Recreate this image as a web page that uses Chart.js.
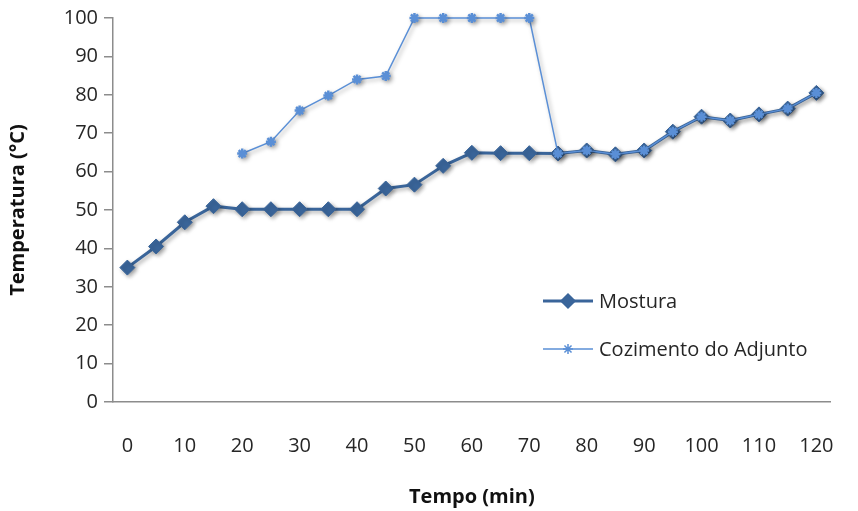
<!DOCTYPE html>
<html>
<head>
<meta charset="utf-8">
<script src="https://cdn.jsdelivr.net/npm/chart.js@4.4.0/dist/chart.umd.min.js"></script>
<style>
  html, body { margin:0; padding:0; background:#fff; }
  #wrap { position:relative; width:858px; height:511px; }
</style>
</head>
<body>
<div id="wrap"><canvas id="chartCanvas" width="858" height="511"></canvas></div>
<script>
const tempos = [0,5,10,15,20,25,30,35,40,45,50,55,60,65,70,75,80,85,90,95,100,105,110,115,120];
const mostura = [35,40.5,46.8,51,50.2,50.2,50.2,50.2,50.2,55.6,56.6,61.5,64.9,64.8,64.8,64.7,65.5,64.5,65.5,70.4,74.3,73.3,74.9,76.4,80.5];
const cozimento = [null,null,null,null,64.7,67.8,75.9,79.8,84,84.9,100,100,100,100,100,64.7,65.5,64.5,65.5,70.4,74.3,73.3,74.9,76.4,80.5];
const yTicks = [0,10,20,30,40,50,60,70,80,90,100];

const FONT = "'Open Sans', sans-serif";
const corMostura = "#3a659a";
const corCozimento = "#5a8fd6";
const corTexto = "#262626";

// sombra dos traços, como no Excel
const shadowPlugin = {
  id: "shadow",
  beforeDatasetsDraw(chart) {
    const ctx = chart.ctx;
    ctx.save();
    ctx.shadowColor = "rgba(0,0,0,0.35)";
    ctx.shadowBlur = 4;
    ctx.shadowOffsetX = 2;
    ctx.shadowOffsetY = 2;
  },
  afterDatasetsDraw(chart) {
    chart.ctx.restore();
  }
};

// legenda dentro da área do gráfico
const legendPlugin = {
  id: "innerLegend",
  afterDraw(chart) {
    const ctx = chart.ctx;
    const items = [
      { label:"Mostura", color:corMostura, width:3, style:"rectRot", r:7, y:301 },
      { label:"Cozimento do Adjunto", color:corCozimento, width:1.5, style:"star", r:5, y:349 }
    ];
    ctx.save();
    items.forEach(it=>{
      ctx.strokeStyle = it.color;
      ctx.lineWidth = it.width;
      ctx.beginPath();
      ctx.moveTo(543, it.y);
      ctx.lineTo(593, it.y);
      ctx.stroke();
      ctx.lineWidth = 1.5;
      ctx.fillStyle = it.color;
      Chart.helpers.drawPoint(ctx, {
        pointStyle: it.style, radius: it.r, borderWidth: 1.5, rotation: 0
      }, 568, it.y);
      ctx.fillStyle = corTexto;
      ctx.font = "20px " + FONT;
      ctx.textBaseline = "middle";
      ctx.fillText(it.label, 599, it.y + 1);
    });
    ctx.restore();
  }
};

new Chart(document.getElementById("chartCanvas"), {
  type: "line",
  data: {
    labels: tempos,
    datasets: [
      {
        label: "Mostura",
        data: mostura,
        borderColor: corMostura,
        backgroundColor: corMostura,
        borderWidth: 3,
        pointStyle: "rectRot",
        pointRadius: 7.5,
        pointBorderWidth: 1,
        order: 2,
        clip: false,
        tension: 0
      },
      {
        label: "Cozimento do Adjunto",
        data: cozimento,
        borderColor: corCozimento,
        backgroundColor: corCozimento,
        borderWidth: 1.5,
        pointStyle: "star",
        pointRadius: 5,
        pointBorderWidth: 2.5,
        order: 1,
        clip: false,
        tension: 0
      }
    ]
  },
  options: {
    responsive: false,
    animation: false,
    layout: { padding: { top: 18, right: 23, left: 6, bottom: 0 } },
    plugins: {
      legend: { display: false },
      tooltip: { enabled: false }
    },
    scales: {
      x: {
        offset: true,
        grid: { display: false },
        border: { color: "#8c8c8c", width: 1.5 },
        ticks: {
          autoSkip: false,
          maxRotation: 0,
          padding: 24,
          color: corTexto,
          font: { family: FONT, size: 20 },
          callback: (v, i) => (tempos[i] % 10 === 0 ? tempos[i] : "")
        },
        title: {
          display: true,
          text: "Tempo (min)",
          color: "#111",
          font: { family: FONT, size: 20, weight: "bold" },
          padding: { top: 16, bottom: 2 }
        },
        afterFit: s => { s.height = 109; }
      },
      y: {
        min: 0,
        max: 100,
        afterBuildTicks: s => { s.ticks = yTicks.map(v => ({ value: v })); },
        grid: { drawOnChartArea: false, color: "#8c8c8c", tickLength: 9, lineWidth: 1.5 },
        border: { color: "#8c8c8c", width: 1.5 },
        ticks: {
          padding: 6,
          color: corTexto,
          font: { family: FONT, size: 20 }
        },
        title: {
          display: true,
          text: "Temperatura (°C)",
          color: "#111",
          font: { family: FONT, size: 20, weight: "bold" },
          padding: { top: 0, bottom: 2 }
        },
        afterFit: s => { s.width = 107; }
      }
    }
  },
  plugins: [shadowPlugin, legendPlugin]
});
</script>
</body>
</html>
